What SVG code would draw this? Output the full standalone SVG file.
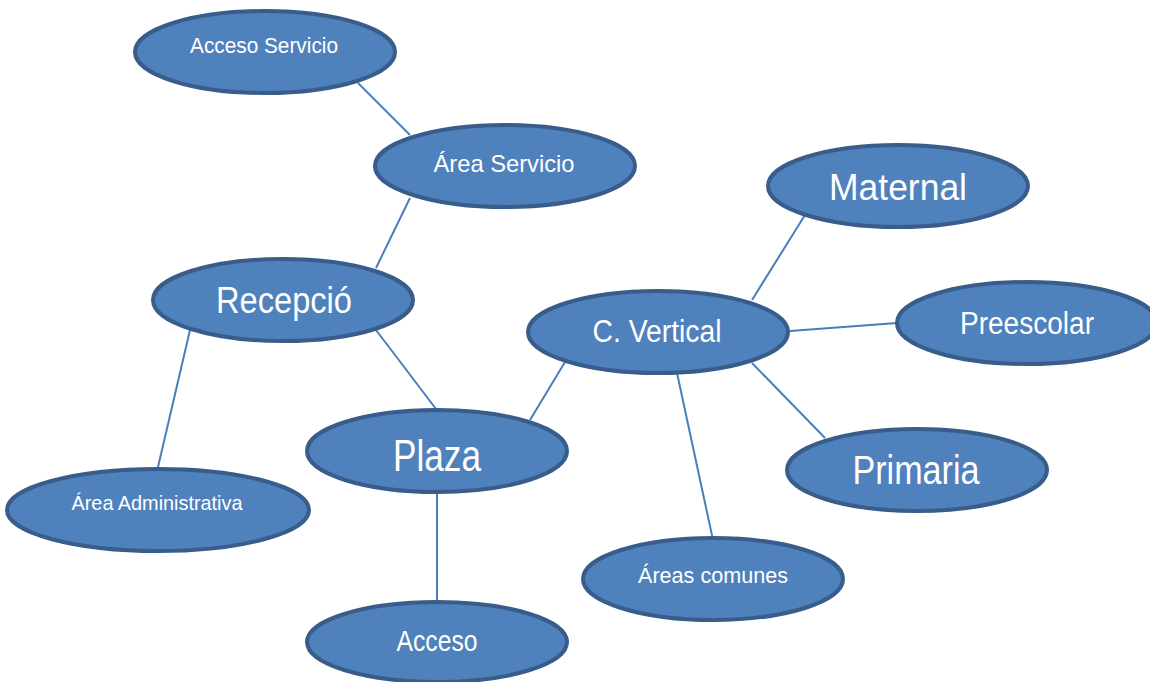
<svg xmlns="http://www.w3.org/2000/svg" width="1150" height="682" viewBox="0 0 1150 682">
<style>
.n{fill:#4f81bd;stroke:#385d8a;stroke-width:4}
.t{fill:#ffffff;font-family:"Liberation Sans",Arial,sans-serif;text-anchor:middle}
.c line{stroke:#4a7ebb;stroke-width:2}
</style>
<rect width="1150" height="682" fill="#ffffff"/>
<g class="c" id="connectors">
<line x1="358" y1="83" x2="410" y2="135"/>
<line x1="410" y1="198" x2="376" y2="268"/>
<line x1="190" y1="330" x2="158" y2="467"/>
<line x1="376" y1="330" x2="436" y2="409"/>
<line x1="437" y1="492" x2="437" y2="602"/>
<line x1="530" y1="420" x2="565" y2="362"/>
<line x1="752" y1="300" x2="805" y2="215"/>
<line x1="790" y1="331" x2="897" y2="323"/>
<line x1="752" y1="363" x2="825" y2="438"/>
<line x1="677" y1="373" x2="713" y2="540"/>
</g>
<g id="acceso-servicio"><ellipse class="n" cx="265" cy="52" rx="130" ry="41"/><text class="t" x="264" y="53" font-size="22" textLength="148" lengthAdjust="spacingAndGlyphs">Acceso Servicio</text></g>
<g id="area-servicio"><ellipse class="n" cx="505" cy="166" rx="130" ry="41"/><text class="t" x="504" y="172" font-size="24" textLength="141" lengthAdjust="spacingAndGlyphs">Área Servicio</text></g>
<g id="maternal"><ellipse class="n" cx="898" cy="186" rx="130" ry="41"/><text class="t" x="898" y="200" font-size="37" textLength="138" lengthAdjust="spacingAndGlyphs">Maternal</text></g>
<g id="recepcio"><ellipse class="n" cx="283" cy="300" rx="130" ry="41"/><text class="t" x="284" y="313" font-size="37" textLength="136" lengthAdjust="spacingAndGlyphs">Recepció</text></g>
<g id="c-vertical"><ellipse class="n" cx="658" cy="332" rx="130" ry="41"/><text class="t" x="657" y="342" font-size="31" textLength="129" lengthAdjust="spacingAndGlyphs">C. Vertical</text></g>
<g id="preescolar"><ellipse class="n" cx="1027" cy="323" rx="130" ry="41"/><text class="t" x="1027" y="334" font-size="31" textLength="134" lengthAdjust="spacingAndGlyphs">Preescolar</text></g>
<g id="plaza"><ellipse class="n" cx="437" cy="451" rx="130" ry="41"/><text class="t" x="437" y="471" font-size="44" textLength="88" lengthAdjust="spacingAndGlyphs">Plaza</text></g>
<g id="primaria"><ellipse class="n" cx="917" cy="470" rx="130" ry="41"/><text class="t" x="916" y="484" font-size="40" textLength="127" lengthAdjust="spacingAndGlyphs">Primaria</text></g>
<g id="area-administrativa"><ellipse class="n" cx="158" cy="510" rx="151" ry="41"/><text class="t" x="157" y="510" font-size="21" textLength="171" lengthAdjust="spacingAndGlyphs">Área Administrativa</text></g>
<g id="areas-comunes"><ellipse class="n" cx="713" cy="579" rx="130" ry="41"/><text class="t" x="713" y="583" font-size="22" textLength="150" lengthAdjust="spacingAndGlyphs">Áreas comunes</text></g>
<g id="acceso"><ellipse class="n" cx="437" cy="642" rx="130" ry="40"/><text class="t" x="437" y="651" font-size="29" textLength="81" lengthAdjust="spacingAndGlyphs">Acceso</text></g>
</svg>
